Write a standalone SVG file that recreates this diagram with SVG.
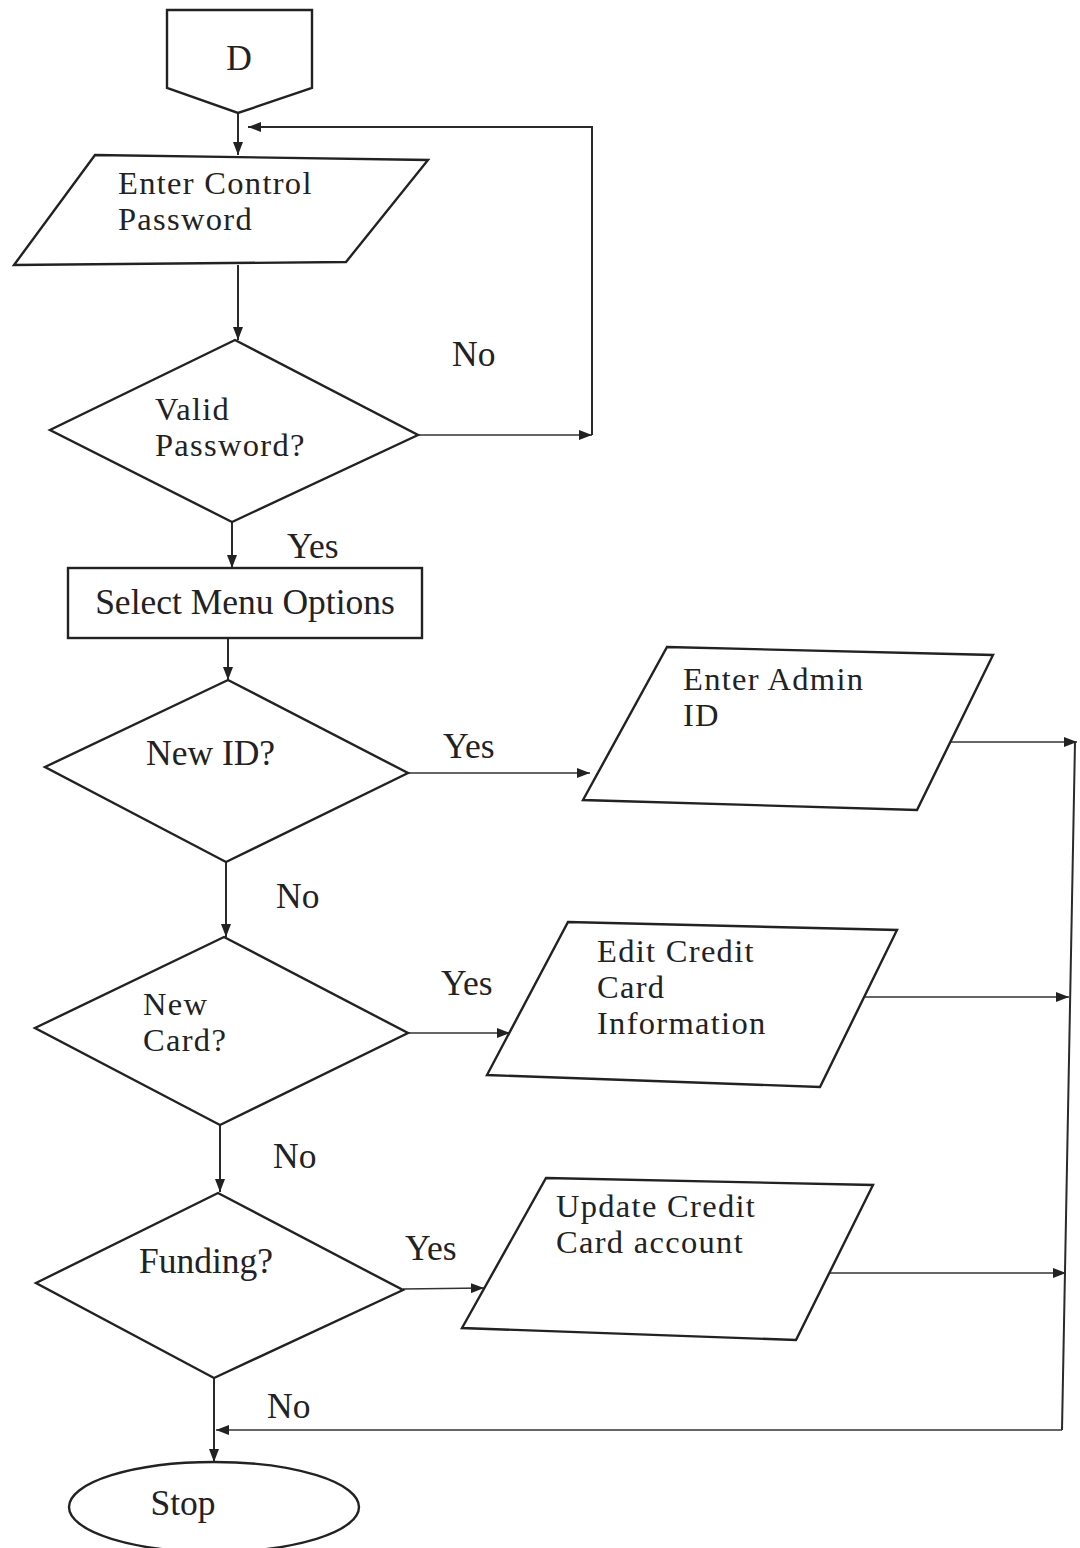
<svg xmlns="http://www.w3.org/2000/svg" width="1080" height="1548" viewBox="0 0 1080 1548">
<style>
.shape{fill:#fff;stroke:#222;stroke-width:2.4;stroke-linejoin:miter}
.conn{fill:none;stroke:#2a2a2a;stroke-width:2}
.thin{fill:none;stroke:#333;stroke-width:1.6}
text{font-family:"Liberation Serif","Times New Roman",serif;font-size:35.5px;fill:#222}
text.ml{font-size:32.5px;letter-spacing:1.3px}
</style>
<defs>
<marker id="arr" markerWidth="13" markerHeight="10" refX="13" refY="5" orient="auto" markerUnits="userSpaceOnUse">
<path d="M0,0 L13,5 L0,10 z" fill="#222"/>
</marker>
</defs>
<rect width="1080" height="1548" fill="#fff"/>

<g id="connectors">
<line class="conn" x1="238" y1="113" x2="238" y2="155" marker-end="url(#arr)"/>
<line class="conn" x1="238" y1="265" x2="238" y2="340" marker-end="url(#arr)"/>
<line class="thin" x1="418" y1="435" x2="592" y2="435" marker-end="url(#arr)"/>
<polyline class="conn" points="592,435 592,127 248,127" marker-end="url(#arr)"/>
<line class="conn" x1="232" y1="522" x2="232" y2="568" marker-end="url(#arr)"/>
<line class="conn" x1="228" y1="638" x2="228" y2="680" marker-end="url(#arr)"/>
<line class="thin" x1="408" y1="773" x2="590" y2="773" marker-end="url(#arr)"/>
<line class="conn" x1="226" y1="862" x2="226" y2="937" marker-end="url(#arr)"/>
<line class="thin" x1="408" y1="1033" x2="510" y2="1033" marker-end="url(#arr)"/>
<line class="conn" x1="220" y1="1125" x2="220" y2="1192" marker-end="url(#arr)"/>
<line class="thin" x1="403" y1="1289" x2="484" y2="1288" marker-end="url(#arr)"/>
<line class="thin" x1="948" y1="742" x2="1077" y2="742" marker-end="url(#arr)"/>
<line class="thin" x1="865" y1="997" x2="1069" y2="997" marker-end="url(#arr)"/>
<line class="thin" x1="818" y1="1273" x2="1066" y2="1273" marker-end="url(#arr)"/>
<line class="conn" x1="1075" y1="742" x2="1062" y2="1430"/>
<line class="thin" x1="1062" y1="1430" x2="216" y2="1430" marker-end="url(#arr)"/>
<line class="conn" x1="214" y1="1378" x2="214" y2="1462" marker-end="url(#arr)"/>
<text x="452" y="366">No</text>
<text x="287" y="558">Yes</text>
<text x="443" y="758">Yes</text>
<text x="276" y="908">No</text>
<text x="441" y="995">Yes</text>
<text x="273" y="1168">No</text>
<text x="405" y="1260">Yes</text>
<text x="267" y="1418">No</text>
</g>

<g id="node-d">
<polygon class="shape" points="167,10 312,10 312,88 238,113 167,88"/>
<text x="239" y="70" text-anchor="middle">D</text>
</g>

<g id="node-enter-control">
<polygon class="shape" points="95,155 428,160 346,262 14,265"/>
<text class="ml" x="118" y="194">Enter Control</text>
<text class="ml" x="118" y="230">Password</text>
</g>

<g id="node-valid">
<polygon class="shape" points="235,340 418,435 232,522 50,430"/>
<text class="ml" x="155" y="420">Valid</text>
<text class="ml" x="155" y="456">Password?</text>
</g>

<g id="node-select">
<rect class="shape" x="68" y="568" width="354" height="70"/>
<text x="245" y="614" text-anchor="middle">Select Menu Options</text>
</g>

<g id="node-newid">
<polygon class="shape" points="228,680 408,773 226,862 45,767"/>
<text x="146" y="765">New ID?</text>
</g>

<g id="node-admin">
<polygon class="shape" points="667,647 993,655 917,810 583,800"/>
<text class="ml" x="683" y="690">Enter Admin</text>
<text class="ml" x="683" y="726">ID</text>
</g>

<g id="node-newcard">
<polygon class="shape" points="224,937 408,1033 220,1125 35,1028"/>
<text class="ml" x="143" y="1015">New</text>
<text class="ml" x="143" y="1051">Card?</text>
</g>

<g id="node-edit">
<polygon class="shape" points="568,922 897,930 820,1087 487,1075"/>
<text class="ml" x="597" y="962">Edit Credit</text>
<text class="ml" x="597" y="998">Card</text>
<text class="ml" x="597" y="1034">Information</text>
</g>

<g id="node-funding">
<polygon class="shape" points="218,1193 403,1290 214,1378 36,1283"/>
<text x="139" y="1273">Funding?</text>
</g>

<g id="node-update">
<polygon class="shape" points="546,1178 873,1185 796,1340 462,1328"/>
<text class="ml" x="556" y="1217">Update Credit</text>
<text class="ml" x="556" y="1253">Card account</text>
</g>

<g id="node-stop">
<ellipse class="shape" cx="214" cy="1507" rx="145" ry="45"/>
<text x="183" y="1515" text-anchor="middle">Stop</text>
</g>
</svg>
